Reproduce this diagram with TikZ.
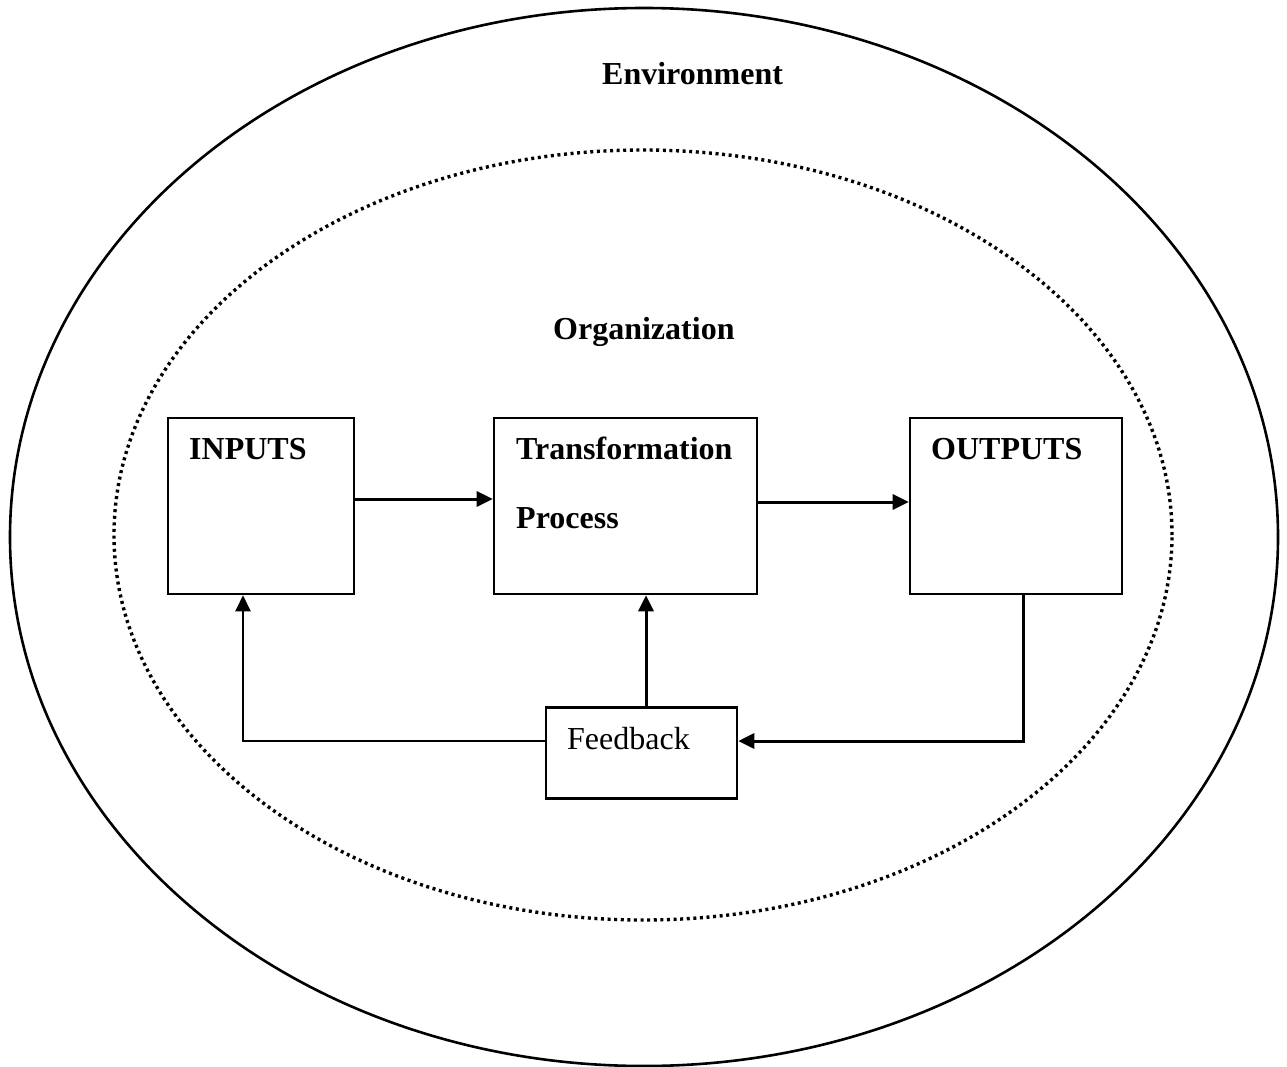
\documentclass[tikz,border=0pt]{standalone}
\usepackage{fontspec}
\setmainfont{Liberation Serif}
\usetikzlibrary{arrows.meta}
\begin{document}
\begin{tikzpicture}[x=1pt,y=-1pt,
  lbl/.style={anchor=base west, inner sep=0pt, font=\fontsize{32}{38}\selectfont\bfseries},
  plainlbl/.style={anchor=base west, inner sep=0pt, font=\fontsize{32}{38}\selectfont},
  boxnode/.style={draw, line width=2.6pt, inner sep=0pt},
  arr/.style={line width=3pt, -{Triangle[length=16pt,width=15pt]}},
  thinarr/.style={line width=2.6pt, -{Triangle[length=16pt,width=15pt]}}]
\useasboundingbox (0,0) rectangle (1287,1067);
% outer environment ellipse
\draw[line width=2.6pt] (644,537) ellipse [x radius=634pt, y radius=529pt];
% inner organization ellipse
\draw[line width=3.4pt, dash pattern=on 3pt off 3.6pt] (643,535) ellipse [x radius=529pt, y radius=385pt];
% labels
\node[lbl] (env) at (602,85) {Environment};
\node[lbl] (org) at (553,339) {Organization};
% boxes
\node[boxnode, minimum width=186pt, minimum height=176pt] (inp) at (261,506) {};
\node[boxnode, minimum width=263pt, minimum height=176pt] (tra) at (625.5,506) {};
\node[boxnode, minimum width=212pt, minimum height=176pt] (out) at (1016,506) {};
\node[boxnode, minimum width=191pt, minimum height=91pt] (fb) at (641.5,753) {};
% texts
\node[lbl] (tinp) at (189,459) {INPUTS};
\node[lbl] (ttra1) at (516,459) {Transformation};
\node[lbl] (ttra2) at (516,528) {Process};
\node[lbl] (tout) at (931,459) {OUTPUTS};
\node[plainlbl] (tfb) at (567,749) {Feedback};
% connectors
\coordinate (c1) at (243,741);
\coordinate (c2) at (1023,741);
\draw[arr] (inp.east |- 0,499) -- (tra.west |- 0,499);
\draw[arr] (tra.east |- 0,502) -- (out.west |- 0,502);
\draw[arr] (fb.north -| 646,0) -- (tra.south -| 646,0);
\draw[arr] (out.south -| c2) -- (c2) -- (fb.east |- c2);
\draw[thinarr] (fb.west |- c1) -- (c1) -- (inp.south -| c1);
\end{tikzpicture}
\end{document}
